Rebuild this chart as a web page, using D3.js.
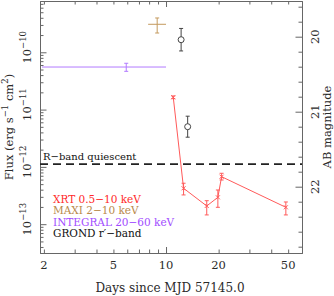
<!DOCTYPE html>
<html>
<head>
<meta charset="utf-8">
<script src="https://cdn.jsdelivr.net/npm/d3@7"></script>
<style>
  html, body { margin: 0; padding: 0; background: #fff; }
  svg text { font-family: "DejaVu Serif", serif; }
</style>
</head>
<body>
<div id="chart"></div>
<script>
// ========= DATA =========
// XRT 0.5-10 keV: day, flux, lower, upper
const xrtDays  = [11.0, 12.6, 17.1, 19.8, 20.8, 48.5];
const xrtFlux  = [1.64e-11, 4.23e-13, 2.08e-13, 2.94e-13, 6.74e-13, 1.97e-13];
const xrtLo    = [1.55e-11, 3.24e-13, 1.45e-13, 1.97e-13, 5.90e-13, 1.45e-13];
const xrtHi    = [1.73e-11, 5.18e-13, 2.57e-13, 3.95e-13, 7.73e-13, 2.44e-13];

// MAXI 2-10 keV
const maxiDay = [8.9], maxiDayLo = [7.9], maxiDayHi = [10.0];
const maxiFlux = [3.08e-10], maxiLo = [2.17e-10], maxiHi = [3.97e-10];

// INTEGRAL 20-60 keV
const intDay = [5.92], intDayLo = [1.95], intDayHi = [10.0];
const intFlux = [5.53e-11], intLo = [4.65e-11], intHi = [6.43e-11];

// GROND r'-band (AB mag)
const grondDays = [12.2, 13.3];
const grondMag  = [20.04, 21.20];
const grondErr  = [0.15, 0.14];
const rQuiescent = 21.7;

// axes
const xLabels   = [2, 5, 10, 20, 50];
const xMajor    = [10];
const xMinor    = [2, 3, 4, 5, 6, 7, 8, 9, 20, 30, 40, 50];
const yLabelExp = [-10, -11, -12, -13];
const magLabels = [20, 21, 22];

const legend = [
  { text: "XRT 0.5\u221210 keV",     color: "#ff2a2a" },
  { text: "MAXI 2\u221210 keV",       color: "#b8894a" },
  { text: "INTEGRAL 20\u221260 keV",  color: "#a24dff" },
  { text: "GROND r\u2032\u2212band",  color: "#111111" }
];

// ========= LAYOUT =========
const W = 334, H = 296;
const M = { left: 40, right: 302, top: 1, bottom: 253 };
const AXIS = "#666";
const TXT = "#2a2a2a";

const x = d3.scaleLog().domain([1.9, 60]).range([M.left, M.right]);
const y = d3.scaleLog().domain([Math.pow(10, -13.503), Math.pow(10, -9.105)]).range([M.bottom, M.top]);
const ym = d3.scaleLinear().domain([19.524, 22.884]).range([M.top, M.bottom]);

const svg = d3.select("#chart").append("svg")
  .attr("width", W).attr("height", H);

function styleAxis(g){
  g.selectAll(".domain").attr("stroke", AXIS);
  g.selectAll(".tick line").attr("stroke", AXIS);
  g.selectAll(".tick text").remove();
}

// y minor ticks: 2..9 x each decade
const yMinor = [];
for (let e = -14; e <= -9; e++){
  for (let k = 2; k <= 9; k++){
    const v = k * Math.pow(10, e);
    if (v > y.domain()[0] && v < y.domain()[1]) yMinor.push(v);
  }
}
const yMajor = yLabelExp.map(e => Math.pow(10, e));

const magMinor = d3.range(19.6, 22.81, 0.2).filter(v => Math.abs(v - Math.round(v)) > 0.01);

// bottom + top
svg.append("g").attr("transform", `translate(0,${M.bottom})`)
  .call(d3.axisBottom(x).tickValues(xMinor).tickSize(-3.5).tickSizeOuter(0).tickFormat(""))
  .call(styleAxis);
svg.append("g").attr("transform", `translate(0,${M.bottom})`)
  .call(d3.axisBottom(x).tickValues(xMajor).tickSize(-6).tickSizeOuter(0).tickFormat(""))
  .call(styleAxis);
svg.append("g").attr("transform", `translate(0,${M.top})`)
  .call(d3.axisTop(x).tickValues(xMinor).tickSize(-3.5).tickSizeOuter(0).tickFormat(""))
  .call(styleAxis);
svg.append("g").attr("transform", `translate(0,${M.top})`)
  .call(d3.axisTop(x).tickValues(xMajor).tickSize(-6).tickSizeOuter(0).tickFormat(""))
  .call(styleAxis);

// left
svg.append("g").attr("transform", `translate(${M.left},0)`)
  .call(d3.axisLeft(y).tickValues(yMinor).tickSize(-3.5).tickSizeOuter(0).tickFormat(""))
  .call(styleAxis);
svg.append("g").attr("transform", `translate(${M.left},0)`)
  .call(d3.axisLeft(y).tickValues(yMajor).tickSize(-6.5).tickSizeOuter(0).tickFormat(""))
  .call(styleAxis);

// right (magnitudes)
svg.append("g").attr("transform", `translate(${M.right},0)`)
  .call(d3.axisRight(ym).tickValues(magMinor).tickSize(-3.5).tickSizeOuter(0).tickFormat(""))
  .call(styleAxis);
svg.append("g").attr("transform", `translate(${M.right},0)`)
  .call(d3.axisRight(ym).tickValues(magLabels).tickSize(-6.5).tickSizeOuter(0).tickFormat(""))
  .call(styleAxis);

// ========= LABELS =========
const FS = 10.5;

svg.append("g").selectAll("text").data(xLabels).join("text")
  .attr("x", d => x(d)).attr("y", 269)
  .attr("text-anchor", "middle").attr("font-size", 11.5).attr("fill", TXT)
  .text(d => d);

svg.append("text")
  .attr("x", 170).attr("y", 292)
  .attr("text-anchor", "middle").attr("font-size", 12).attr("fill", TXT)
  .text("Days since MJD 57145.0");

// left tick labels (rotated)
yLabelExp.forEach(e => {
  const t = svg.append("text")
    .attr("transform", `translate(31,${y(Math.pow(10, e)) - 5}) rotate(-90)`)
    .attr("text-anchor", "middle").attr("font-size", 11.5).attr("fill", TXT);
  t.append("tspan").text("10");
  t.append("tspan").attr("dy", -5).attr("font-size", 8.5).text("\u2212" + Math.abs(e));
});

// flux label
{
  const t = svg.append("text")
    .attr("transform", `translate(13,${(M.top + M.bottom) / 2}) rotate(-90)`)
    .attr("text-anchor", "middle").attr("font-size", 11.5).attr("fill", TXT);
  t.append("tspan").text("Flux (erg s");
  t.append("tspan").attr("dy", -5).attr("font-size", 8.5).text("\u22121");
  t.append("tspan").attr("dy", 5).text(" cm");
  t.append("tspan").attr("dy", -5).attr("font-size", 8.5).text("2");
  t.append("tspan").attr("dy", 5).text(")");
}

// right tick labels (rotated)
magLabels.forEach(m => {
  svg.append("text")
    .attr("transform", `translate(319,${ym(m)}) rotate(-90)`)
    .attr("text-anchor", "middle").attr("font-size", 11.5).attr("fill", TXT)
    .text(m);
});
svg.append("text")
  .attr("transform", `translate(331,${(M.top + M.bottom) / 2}) rotate(-90)`)
  .attr("text-anchor", "middle").attr("font-size", 11.5).attr("fill", TXT)
  .text("AB magnitude");

// ========= DATA MARKS =========
// R-band quiescent
svg.append("line")
  .attr("x1", M.left).attr("x2", M.right)
  .attr("y1", ym(rQuiescent)).attr("y2", ym(rQuiescent))
  .attr("stroke", "#222").attr("stroke-width", 1.8).attr("stroke-dasharray", "8,5");
svg.append("text")
  .attr("x", 43).attr("y", ym(rQuiescent) - 4)
  .attr("font-size", 10).attr("fill", "#111")
  .text("R\u2212band quiescent");

function vErr(g, xv, y1, y2, color, cap){
  g.append("line").attr("x1", xv).attr("x2", xv).attr("y1", y1).attr("y2", y2)
    .attr("stroke", color).attr("stroke-width", 1);
  [y1, y2].forEach(yy => g.append("line")
    .attr("x1", xv - cap).attr("x2", xv + cap).attr("y1", yy).attr("y2", yy)
    .attr("stroke", color).attr("stroke-width", 1));
}

// INTEGRAL
{
  const c = "#b27bff";
  const g = svg.append("g");
  intDay.forEach((d, i) => {
    g.append("line").attr("x1", x(intDayLo[i])).attr("x2", x(intDayHi[i]))
      .attr("y1", y(intFlux[i])).attr("y2", y(intFlux[i]))
      .attr("stroke", c).attr("stroke-width", 1);
    vErr(g, x(d), y(intHi[i]), y(intLo[i]), c, 2);
  });
}

// MAXI
{
  const c = "#c49a5e";
  const g = svg.append("g");
  maxiDay.forEach((d, i) => {
    g.append("line").attr("x1", x(maxiDayLo[i])).attr("x2", x(maxiDayHi[i]))
      .attr("y1", y(maxiFlux[i])).attr("y2", y(maxiFlux[i]))
      .attr("stroke", c).attr("stroke-width", 1);
    vErr(g, x(d), y(maxiHi[i]), y(maxiLo[i]), c, 2);
  });
}

// GROND
{
  const c = "#444";
  const g = svg.append("g");
  grondDays.forEach((d, i) => {
    vErr(g, x(d), ym(grondMag[i] - grondErr[i]), ym(grondMag[i] + grondErr[i]), c, 2);
    g.append("circle").attr("cx", x(d)).attr("cy", ym(grondMag[i])).attr("r", 3)
      .attr("fill", "#fff").attr("stroke", c).attr("stroke-width", 1);
  });
}

// XRT
{
  const c = "#ff5a5a";
  const g = svg.append("g");
  const line = d3.line().x(d => x(d[0])).y(d => y(d[1]));
  g.append("path").datum(xrtDays.map((d, i) => [d, xrtFlux[i]]))
    .attr("d", line).attr("fill", "none").attr("stroke", c).attr("stroke-width", 1);
  xrtDays.forEach((d, i) => {
    vErr(g, x(d), y(xrtHi[i]), y(xrtLo[i]), c, 2);
    const px = x(d), py = y(xrtFlux[i]);
    g.append("path").attr("d", `M${px-2},${py-2}L${px+2},${py+2}M${px-2},${py+2}L${px+2},${py-2}`)
      .attr("stroke", c).attr("stroke-width", 1);
  });
}

// legend
svg.append("g").selectAll("text").data(legend).join("text")
  .attr("x", 53).attr("y", (d, i) => 203 + i * 11.4)
  .attr("font-size", FS).attr("fill", d => d.color)
  .text(d => d.text);
</script>
</body>
</html>
